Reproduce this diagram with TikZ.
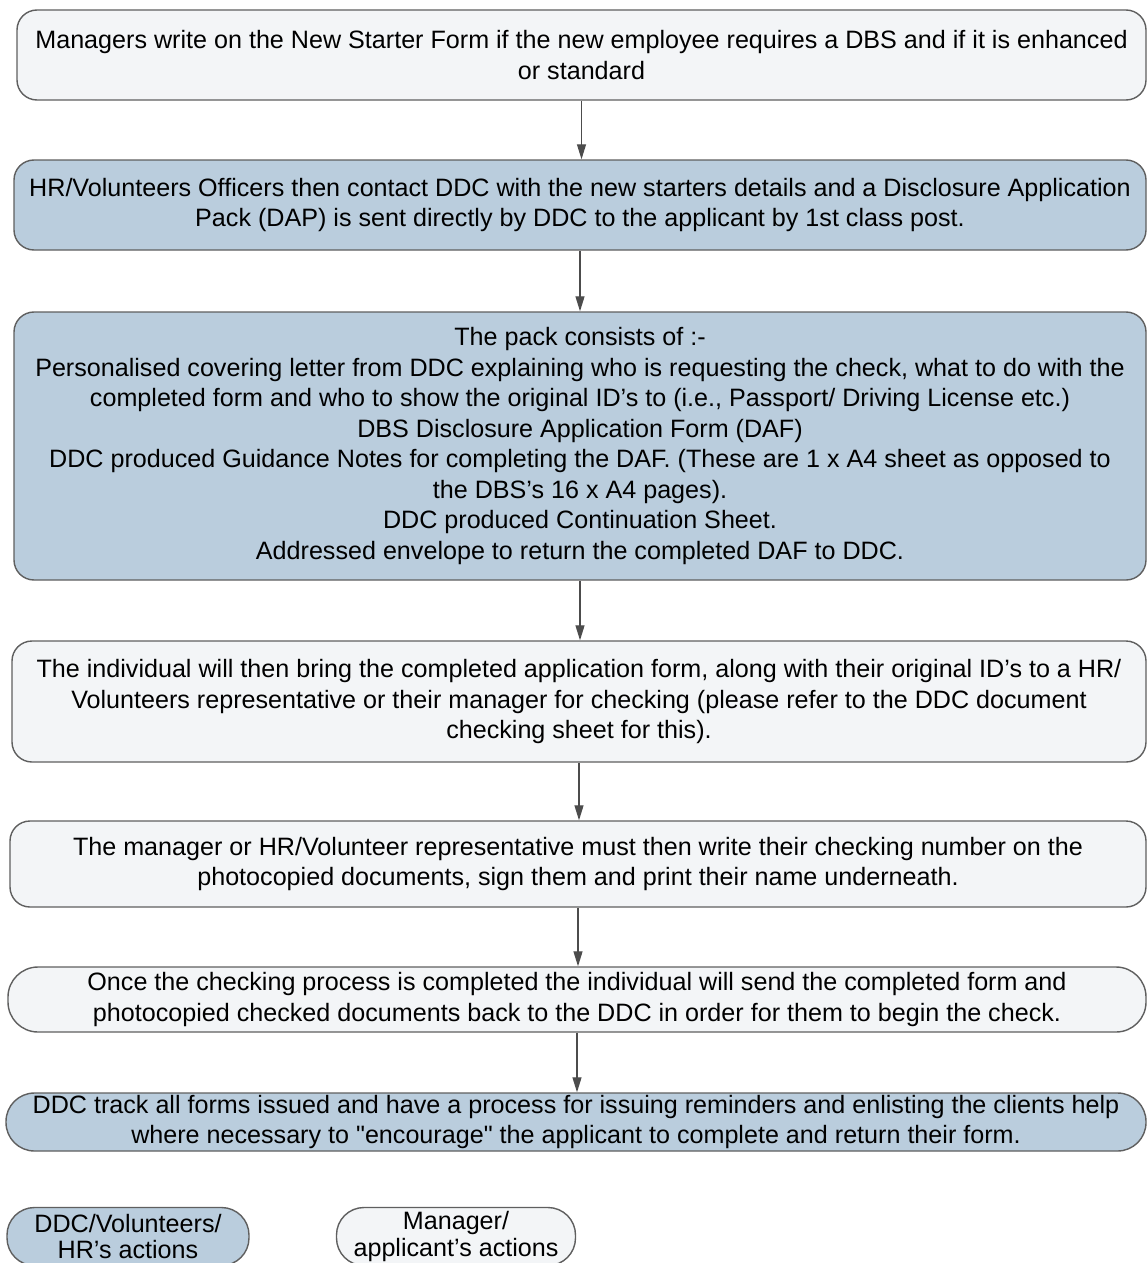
\documentclass[tikz,border=0pt]{standalone}
\usepackage{fontspec}
\setmainfont{Liberation Sans}
\usetikzlibrary{arrows.meta}

\definecolor{paleFill}{RGB}{243,245,247}
\definecolor{blueFill}{RGB}{186,205,221}
\definecolor{edgeGrey}{RGB}{95,95,95}

\tikzset{
	stepbox/.style={draw=edgeGrey, line width=0.8pt, rounded corners=0.4cm, align=center, inner sep=0pt,
		font=\fontsize{14.3}{17.4}\selectfont},
	managerbox/.style={stepbox, fill=paleFill},
	officebox/.style={stepbox, fill=blueFill},
	keybox/.style={rounded corners=0.55cm, minimum height=1.16cm, font=\fontsize{14.3}{15.2}\selectfont},
	flow/.style={draw=black!70, line width=0.7pt, -{Triangle[width=1.8mm,length=3mm]}}
}

\begin{document}
\begin{tikzpicture}
	\useasboundingbox (0,0) rectangle (22.94,-25.26);
	%\draw (0,0) rectangle (22.94,-25.26);
	% steps
	\node[managerbox, minimum width=22.58cm, minimum height=1.8cm] (starter) at (11.63,-1.10)
		{Managers write on the New Starter Form if the new employee requires a DBS and if it is enhanced\\or standard};
	\node[officebox, minimum width=22.64cm, minimum height=1.8cm] (contact) at (11.60,-4.10)
		{HR/Volunteers Officers then contact DDC with the new starters details and a Disclosure Application\\Pack (DAP) is sent directly by DDC to the applicant by 1st class post.};
	\node[officebox, minimum width=22.64cm, minimum height=5.36cm] (pack) at (11.60,-8.92)
		{The pack consists of :-\\
		Personalised covering letter from DDC explaining who is requesting the check, what to do with the\\
		completed form and who to show the original ID's to (i.e., Passport/ Driving License etc.)\\
		DBS Disclosure Application Form (DAF)\\
		DDC produced Guidance Notes for completing the DAF. (These are 1 x A4 sheet as opposed to\\
		the DBS's 16 x A4 pages).\\
		DDC produced Continuation Sheet.\\
		Addressed envelope to return the completed DAF to DDC.};
	\node[managerbox, minimum width=22.68cm, minimum height=2.42cm] (bring) at (11.58,-14.03)
		{The individual will then bring the completed application form, along with their original ID's to a HR/\\Volunteers representative or their manager for checking (please refer to the DDC document\\checking sheet for this).};
	\node[managerbox, minimum width=22.72cm, minimum height=1.72cm] (sign) at (11.56,-17.28)
		{The manager or HR/Volunteer representative must then write their checking number on the\\photocopied documents, sign them and print their name underneath.};
	\node[managerbox, rounded corners=0.6cm, minimum width=22.76cm, minimum height=1.30cm] (send) at (11.54,-19.99)
		{Once the checking process is completed the individual will send the completed form and\\photocopied checked documents back to the DDC in order for them to begin the check.};
	\node[officebox, rounded corners=0.57cm, minimum width=22.80cm, minimum height=1.16cm] (track) at (11.52,-22.44)
		{DDC track all forms issued and have a process for issuing reminders and enlisting the clients help\\where necessary to \textquotedbl encourage\textquotedbl{} the applicant to complete and return their form.};
	% key
	\node[officebox, keybox, minimum width=4.84cm] (keyoffice) at (2.56,-24.73)
		{DDC/Volunteers/\\HR's actions};
	\node[managerbox, keybox, minimum width=4.78cm] (keymanager) at (9.12,-24.73)
		{Manager/\\applicant's actions};
	% arrows
	\draw[flow] (starter.south) -- (starter.south |- contact.north);
	\draw[flow] (contact.south) -- (contact.south |- pack.north);
	\draw[flow] (pack.south) -- (pack.south |- bring.north);
	\draw[flow] (bring.south) -- (bring.south |- sign.north);
	\draw[flow] (sign.south) -- (sign.south |- send.north);
	\draw[flow] (send.south) -- (send.south |- track.north);
\end{tikzpicture}
\end{document}
